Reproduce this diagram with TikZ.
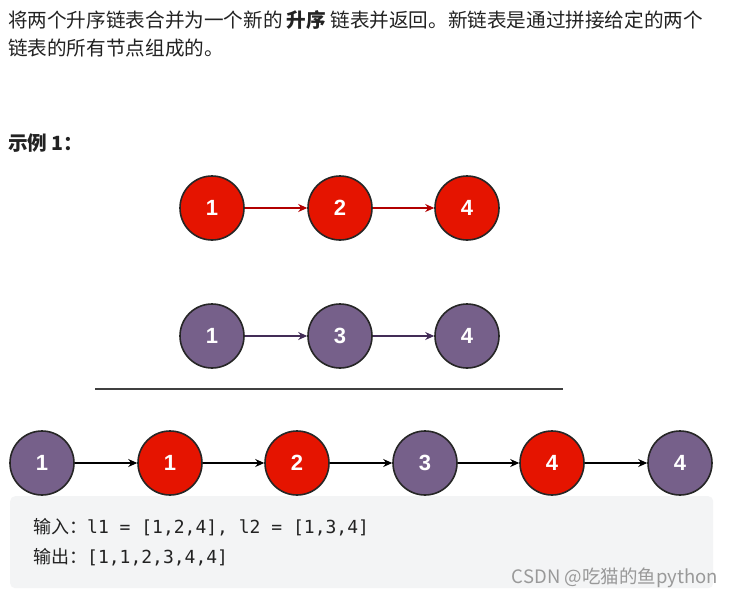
\documentclass[tikz,border=0pt]{standalone}
\usepackage{fontspec}
\setmainfont{Liberation Sans}
\setmonofont{DejaVu Sans Mono}
\newfontfamily\cjk{Noto Sans CJK SC}
\usetikzlibrary{arrows.meta}
\definecolor{nred}{HTML}{E51400}
\definecolor{npur}{HTML}{76608A}
\definecolor{ared}{HTML}{B20000}
\definecolor{apur}{HTML}{432D57}
\definecolor{boxbg}{HTML}{F3F4F5}
\definecolor{txt}{HTML}{222222}
\tikzset{
  lnode/.style={circle, draw=black!85, line width=1.6pt, minimum size=64pt, inner sep=0pt,
    text=white, font=\fontsize{22}{22}\selectfont\bfseries},
  rednode/.style={lnode, fill=nred},
  purnode/.style={lnode, fill=npur},
  link/.style={-{Stealth[length=9pt,width=8pt]}, line width=1.3pt},
  body/.style={anchor=west, inner sep=0pt, text=txt, font=\cjk\fontsize{19.6}{22}\selectfont},
  code/.style={anchor=west, inner sep=0pt, text=txt, font=\fontsize{18}{20}\selectfont}
}
\begin{document}
\begin{tikzpicture}[x=1pt,y=-1pt]
\useasboundingbox[fill=white] (0,0) rectangle (733,597);
\node[body] (t1) at (8,20) {将两个升序链表合并为一个新的 \textbf{升序} 链表并返回。新链表是通过拼接给定的两个};
\node[body] (t2) at (8,48) {链表的所有节点组成的。};
\node[body] (ex) at (8,143) {\textbf{示例 1：}};
% row 1
\node[rednode] (a1) at (212,208) {1};
\node[rednode] (a2) at (340,208) {2};
\node[rednode] (a3) at (467,208) {4};
\draw[link, ared] (a1) -- (a2);
\draw[link, ared] (a2) -- (a3);
% row 2
\node[purnode] (b1) at (212,336) {1};
\node[purnode] (b2) at (340,336) {3};
\node[purnode] (b3) at (467,336) {4};
\draw[link, apur] (b1) -- (b2);
\draw[link, apur] (b2) -- (b3);
% separator
\coordinate (s1) at (95,389);
\coordinate (s2) at (563,389);
\draw[line width=2pt, black!75] (s1) -- (s2);
% box
\node[draw=none, fill=boxbg, rounded corners=5pt, minimum width=703pt, minimum height=92pt, anchor=north west, inner sep=0pt] (box) at (10,496) {};
% result row
\node[purnode] (c1) at (42,463) {1};
\node[rednode] (c2) at (170,463) {1};
\node[rednode] (c3) at (297,463) {2};
\node[purnode] (c4) at (425,463) {3};
\node[rednode] (c5) at (552,463) {4};
\node[purnode] (c6) at (680,463) {4};
\foreach \i/\j in {c1/c2,c2/c3,c3/c4,c4/c5,c5/c6}{\draw[link, black] (\i) -- (\j);}
% box text
\node[code] (in) at (33,527) {{\cjk 输入：}\texttt{l1 = [1,2,4], l2 = [1,3,4]}};
\node[code] (out) at (33,557) {{\cjk 输出：}\texttt{[1,1,2,3,4,4]}};
\node[anchor=east, inner sep=0pt, text=black!40, font=\cjk\fontsize{18.5}{20}\selectfont] (wm) at (718,578) {CSDN @吃猫的鱼python};
\end{tikzpicture}
\end{document}
